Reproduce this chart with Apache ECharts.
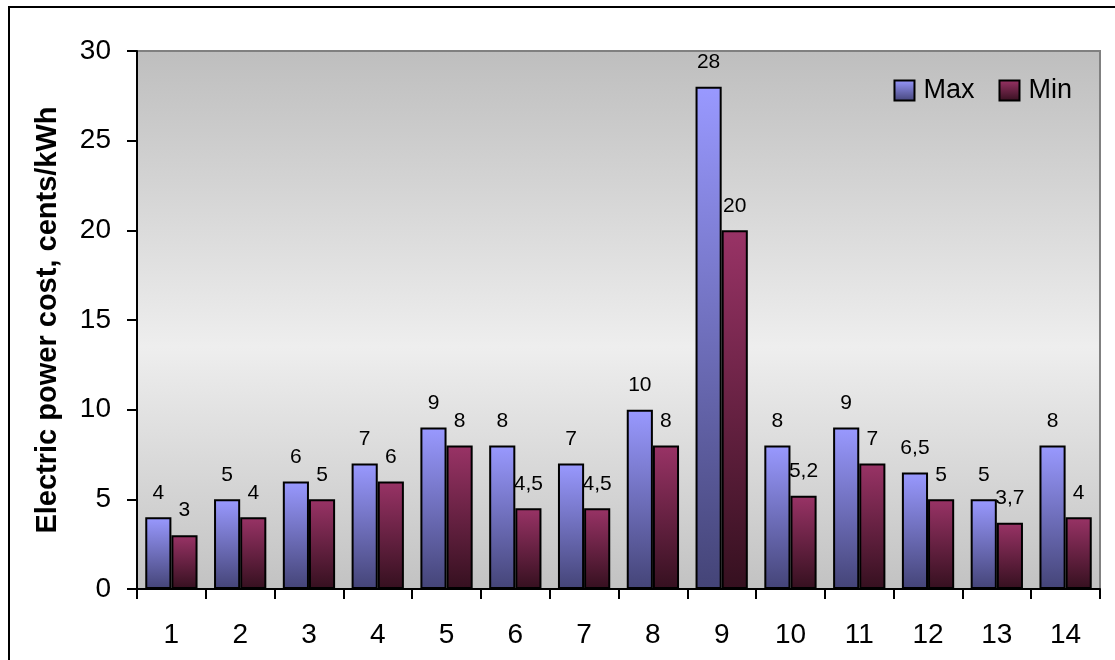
<!DOCTYPE html>
<html>
<head>
<meta charset="UTF-8">
<title>Electric power cost</title>
<style>
    html, body { margin: 0; padding: 0; background: #fff; overflow: hidden; }
    .frame {
        position: absolute; left: 8px; top: 6px;
        width: 1200px; height: 800px;
        border-left: 2px solid #000; border-top: 2px solid #000;
    }
    #main { position: absolute; left: 0; top: 0; width: 1115px; height: 660px; }
</style>
</head>
<body>
<div class="frame"></div>
<div id="main"></div>
<script src="https://cdn.jsdelivr.net/npm/echarts@6/dist/echarts.min.js"></script>
<script>
    // 数据
    var categories = ['1', '2', '3', '4', '5', '6', '7', '8', '9', '10', '11', '12', '13', '14'];
    var maxValues = [4, 5, 6, 7, 9, 8, 7, 10, 28, 8, 9, 6.5, 5, 8];
    var minValues = [3, 4, 5, 6, 8, 4.5, 4.5, 8, 20, 5.2, 7, 5, 3.7, 4];
    var seriesNames = ['Max', 'Min'];
    var yTitle = 'Electric power cost, cents/kWh';

    var fontFam = 'Arial, "Liberation Sans", sans-serif';

    function grad(top, bottom) {
        return new echarts.graphic.LinearGradient(0, 0, 0, 1, [
            { offset: 0, color: top },
            { offset: 1, color: bottom }
        ]);
    }

    var labelOpt = {
        show: true,
        position: 'top',
        distance: 14,
        color: '#000',
        fontSize: 21,
        fontFamily: fontFam,
        formatter: function (p) { return String(p.value).replace('.', ','); }
    };

    var chart = echarts.init(document.getElementById('main'));
    var option = {
        animation: false,
        grid: { left: 137, top: 51, width: 963, height: 538, containLabel: false },
        graphic: [{
            type: 'rect',
            z: -1,
            shape: { x: 137, y: 51, width: 963, height: 538 },
            style: {
                // 背景渐变（上下较深，中间浅）
                fill: new echarts.graphic.LinearGradient(0, 0, 0, 1, [
                    { offset: 0, color: '#bebebe' },
                    { offset: 0.55, color: '#eeeeee' },
                    { offset: 1, color: '#c2c2c2' }
                ]),
                stroke: '#808080',
                lineWidth: 2
            }
        }],
        legend: {
            right: 38,
            top: 72,
            icon: 'rect',
            itemWidth: 20,
            itemHeight: 20,
            itemGap: 24,
            textStyle: { fontSize: 27, fontFamily: fontFam, color: '#000', padding: [0, 0, 0, 4] },
            data: seriesNames
        },
        xAxis: {
            type: 'category',
            data: categories,
            axisLine: { lineStyle: { color: '#000', width: 2 } },
            axisTick: { show: true, length: 10, inside: false, lineStyle: { color: '#000', width: 2 } },
            axisLabel: { fontSize: 28, color: '#000', margin: 32, fontFamily: fontFam }
        },
        yAxis: {
            type: 'value',
            min: 0,
            max: 30,
            interval: 5,
            name: yTitle,
            nameLocation: 'middle',
            nameGap: 75,
            nameTextStyle: { fontSize: 29, fontWeight: 'bold', color: '#000', fontFamily: fontFam },
            axisLine: { show: true, lineStyle: { color: '#000', width: 2 } },
            axisTick: { show: true, length: 10, lineStyle: { color: '#000', width: 2 } },
            splitLine: { show: false },
            axisLabel: { fontSize: 28, color: '#000', margin: 26, fontFamily: fontFam }
        },
        series: [{
            name: seriesNames[0],
            type: 'bar',
            data: maxValues,
            barGap: '0%',
            barCategoryGap: '24%',
            itemStyle: {
                color: grad('#9999ff', '#444477'),
                borderColor: '#000',
                borderWidth: 2
            },
            label: labelOpt
        }, {
            name: seriesNames[1],
            type: 'bar',
            data: minValues,
            itemStyle: {
                color: grad('#993366', '#35101f'),
                borderColor: '#000',
                borderWidth: 2
            },
            label: labelOpt
        }]
    };

    chart.setOption(option);
</script>
</body>
</html>
